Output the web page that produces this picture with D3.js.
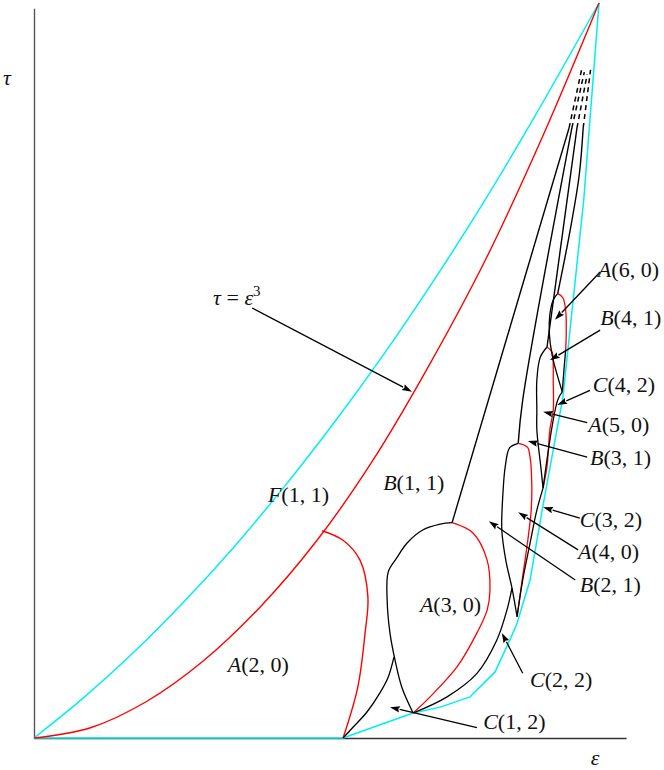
<!DOCTYPE html>
<html><head><meta charset="utf-8">
<script src="https://cdn.jsdelivr.net/npm/d3@7"></script>
<style>body{margin:0;background:#fff}</style>
</head><body>
<svg id="c" width="664" height="770"></svg>
<script>
// ---- data (epsilon, tau) ----
const cyanUpper = [[0,0],[0.088,0.055],[0.177,0.117],[0.265,0.185],[0.354,0.260],[0.442,0.341],[0.531,0.429],[0.619,0.522],[0.708,0.623],[0.796,0.729],[0.885,0.844],[1,1]];
const cyanLower = [[0,0],[0.547,0],[0.671,0.034],[0.719,0.042],[0.772,0.056],[0.816,0.090],[0.842,0.133],[0.855,0.156],[0.878,0.215],[0.901,0.317],[0.936,0.463],[0.973,0.732],[1,1]];
const redCubic = [[0,0],[0.1,0.014],[0.2,0.05],[0.3,0.105],[0.4,0.178],[0.5,0.268],[0.6,0.378],[0.7,0.508],[0.8,0.652],[0.9,0.818],[1,1]];
const redF11 = [[0.510,0.282],[0.547,0.269],[0.577,0.242],[0.591,0.192],[0.586,0.143],[0.573,0.069],[0.547,0]];
const blackFan = [[0.547,0],[0.565,0.015],[0.589,0.035],[0.612,0.061],[0.627,0.083],[0.637,0.110]];
const loopA3Black = [[0.671,0.034],[0.651,0.069],[0.639,0.106],[0.630,0.143],[0.625,0.188],[0.627,0.226],[0.642,0.245],[0.660,0.265],[0.688,0.283],[0.719,0.291],[0.740,0.293]];
const loopA3Red = [[0.740,0.293],[0.777,0.279],[0.802,0.242],[0.807,0.201],[0.802,0.174],[0.784,0.143],[0.749,0.097],[0.701,0.056],[0.671,0.034]];
const lineC1 = [[0.671,0.034],[0.731,0.056],[0.784,0.088],[0.819,0.133],[0.837,0.174],[0.846,0.204]];
const loopA4Black = [[0.857,0.401],[0.842,0.395],[0.834,0.369],[0.830,0.333],[0.828,0.283],[0.835,0.242],[0.846,0.204],[0.855,0.165]];
const loopA4Red = [[0.857,0.401],[0.873,0.396],[0.878,0.382],[0.881,0.347],[0.880,0.310],[0.874,0.269],[0.864,0.215],[0.855,0.165]];
const lineC2 = [[0.855,0.165],[0.865,0.215],[0.878,0.265],[0.890,0.310],[0.901,0.340]];
const loopA5Black = [[0.908,0.532],[0.896,0.518],[0.890,0.487],[0.890,0.446],[0.890,0.419],[0.897,0.369],[0.901,0.340]];
const loopA5Red = [[0.908,0.532],[0.917,0.525],[0.919,0.505],[0.919,0.487],[0.919,0.446],[0.913,0.419],[0.908,0.369],[0.901,0.340]];
const lineC3 = [[0.901,0.340],[0.927,0.460],[0.935,0.471]];
const loopA6Black = [[0.927,0.605],[0.919,0.596],[0.913,0.576],[0.912,0.551],[0.917,0.521],[0.926,0.494],[0.935,0.471]];
const loopA6Red = [[0.927,0.605],[0.936,0.599],[0.941,0.582],[0.942,0.551],[0.941,0.528]];
const loopA6Tail = [[0.941,0.528],[0.938,0.501],[0.935,0.471]];
const solidL1 = [[0.740,0.293],[0.947,0.830]];
const solidL2 = [[0.857,0.401],[0.865,0.460],[0.952,0.830]];
const solidL3 = [[0.908,0.532],[0.961,0.830]];
const solidL4 = [[0.927,0.605],[0.949,0.691],[0.965,0.766],[0.972,0.830]];
const dashD1 = [[0.947,0.830],[0.970,0.912]];
const dashD2 = [[0.952,0.830],[0.974,0.906]];
const dashD3 = [[0.961,0.830],[0.979,0.903]];
const dashD4 = [[0.972,0.830],[0.985,0.909]];

// region labels and their arrows
const regionNames = ["A(6,0)","B(4,1)","C(4,2)","A(5,0)","B(3,1)","C(3,2)","A(4,0)","B(2,1)","C(2,2)","C(1,2)","A(3,0)","A(2,0)","F(1,1)","B(1,1)"];
const regionAt = [[0.998,0.627],[1.002,0.562],[0.989,0.471],[0.981,0.416],[0.984,0.371],[0.966,0.287],[0.963,0.244],[0.966,0.199],[0.878,0.069],[0.795,0.012],[0.683,0.171],[0.343,0.090],[0.414,0.321],[0.618,0.337]];
const arrowFrom = [[1.002,0.634],[1.002,0.555],[0.984,0.473],[0.979,0.429],[0.979,0.382],[0.966,0.299],[0.963,0.256],[0.958,0.215],[0.865,0.088],[0.784,0.014],[0.386,0.585]];
const arrowTo   = [[0.922,0.569],[0.913,0.514],[0.926,0.453],[0.901,0.444],[0.874,0.404],[0.901,0.314],[0.857,0.307],[0.805,0.295],[0.828,0.143],[0.630,0.042],[0.669,0.471]];

// ---- drawing ----
const svg = d3.select("#c");
const x = d3.scaleLinear().domain([0,1]).range([34,599]);
const y = d3.scaleLinear().domain([0,1]).range([738,3]);

const smooth = d3.line().x(d=>x(d[0])).y(d=>y(d[1])).curve(d3.curveCatmullRom.alpha(0.5));
const straight = d3.line().x(d=>x(d[0])).y(d=>y(d[1]));

// axes (no ticks)
const xa = d3.scaleLinear().domain([0,1.048]).range([x(0),x(1.048)]);
const ya = d3.scaleLinear().domain([0,0.993]).range([y(0),y(0.993)]);
svg.append("g").attr("transform",`translate(0,${y(0)})`)
  .call(d3.axisBottom(xa).tickValues([]).tickSizeOuter(0))
  .select(".domain").attr("stroke","#333").attr("stroke-width",1.4);
svg.append("g").attr("transform",`translate(${x(0)},0)`)
  .call(d3.axisLeft(ya).tickValues([]).tickSizeOuter(0))
  .select(".domain").attr("stroke","#555").attr("stroke-width",1.4);

function draw(data, color, gen, w, dash){
  const p = svg.append("path").attr("d", gen(data)).attr("fill","none")
    .attr("stroke", color).attr("stroke-width", w).attr("stroke-linejoin","round");
  if (dash) p.attr("stroke-dasharray", dash);
}
const CY = "#00eef2", RD = "#ff0000", BK = "#000";

draw(cyanUpper, CY, smooth, 1.5);
draw(cyanLower, CY, straight, 1.5);
draw(redCubic, RD, smooth, 1.4);
draw(redF11, RD, smooth, 1.4);
draw(blackFan, BK, smooth, 1.3);
draw(loopA3Black, BK, smooth, 1.3);
draw(loopA3Red, RD, smooth, 1.3);
draw(lineC1, BK, smooth, 1.3);
draw(loopA4Black, BK, smooth, 1.3);
draw(loopA4Red, RD, smooth, 1.3);
draw(lineC2, BK, smooth, 1.3);
draw(loopA5Black, BK, smooth, 1.3);
draw(loopA5Red, RD, smooth, 1.3);
draw(lineC3, BK, smooth, 1.3);
draw(loopA6Black, BK, smooth, 1.3);
draw(loopA6Red, RD, smooth, 1.3);
draw(loopA6Tail, BK, smooth, 1.3);
[solidL1, solidL2, solidL3, solidL4].forEach(l => draw(l, BK, smooth, 1.4));
[dashD1, dashD2, dashD3, dashD4].forEach(l => draw(l, BK, straight, 1.5, "5,4"));

// arrows
function arrow(a, b){
  const x1 = x(a[0]), y1 = y(a[1]), x2 = x(b[0]), y2 = y(b[1]);
  const ang = Math.atan2(y2-y1, x2-x1), L = 10, W = 3.2;
  const bx = x2 - L*Math.cos(ang), by = y2 - L*Math.sin(ang);
  svg.append("line").attr("x1",x1).attr("y1",y1).attr("x2",bx).attr("y2",by)
    .attr("stroke",BK).attr("stroke-width",1.3);
  const px = -Math.sin(ang)*W, py = Math.cos(ang)*W;
  svg.append("path").attr("d",`M${x2},${y2}L${bx+px},${by+py}L${bx+1.5*Math.cos(ang)},${by+1.5*Math.sin(ang)}L${bx-px},${by-py}Z`)
    .attr("fill",BK);
}
arrowFrom.forEach((a,i)=>arrow(a, arrowTo[i]));

// labels
const FONT = "'Liberation Serif','Times New Roman',serif";
function regionLabel(name, pos){
  const t = svg.append("text").attr("x", x(pos[0])).attr("y", y(pos[1]))
    .attr("font-family", FONT).attr("font-size", 22).attr("fill","#111");
  t.append("tspan").attr("font-style","italic").text(name[0]);
  const inner = name.slice(2, -1).split(",");
  t.append("tspan").text("(" + inner[0] + ", " + inner[1] + ")");
}
regionNames.forEach((n,i)=>regionLabel(n, regionAt[i]));

// tau = eps^3
const eq = svg.append("text").attr("x", x(0.317)).attr("y", y(0.589))
  .attr("font-family", FONT).attr("font-size", 22).attr("fill","#111");
eq.append("tspan").attr("font-style","italic").text("τ");
eq.append("tspan").text(" = ");
eq.append("tspan").attr("font-style","italic").text("ε");
eq.append("tspan").attr("font-size",15).attr("dy",-9).text("3");

// axis labels
svg.append("text").attr("x", x(0.993)).attr("y", y(-0.037)).attr("text-anchor","middle")
  .attr("font-family", FONT).attr("font-size", 22).attr("font-style","italic").attr("fill","#111").text("ε");
svg.append("text").attr("x", x(-0.048)).attr("y", y(0.888)).attr("text-anchor","middle")
  .attr("font-family", FONT).attr("font-size", 22).attr("font-style","italic").attr("fill","#111").text("τ");
</script>
</body></html>
